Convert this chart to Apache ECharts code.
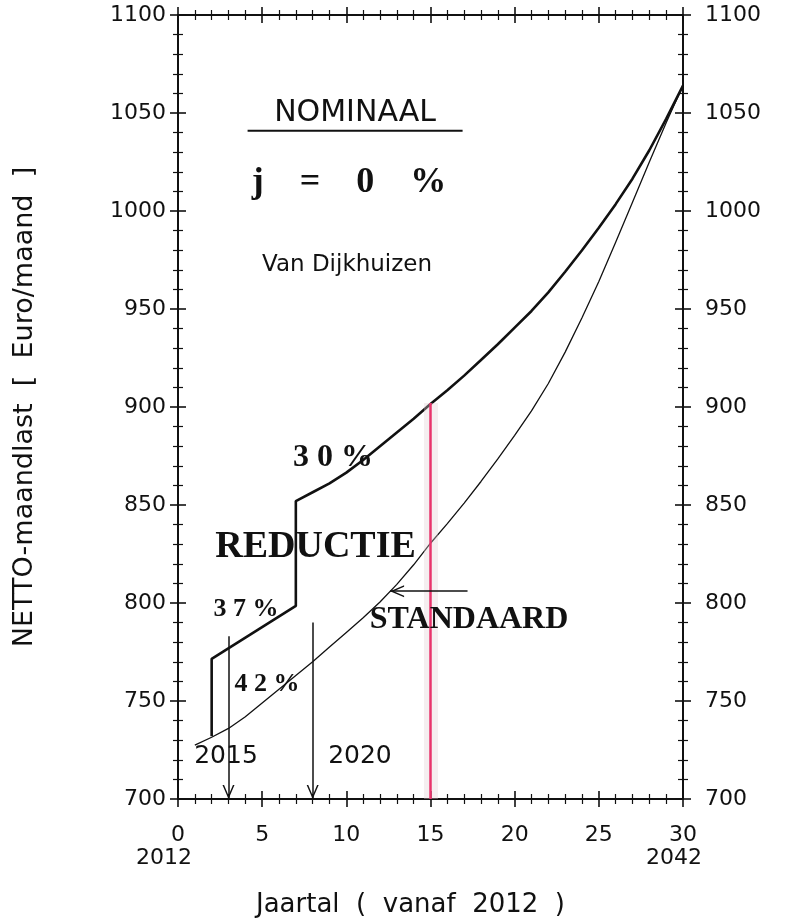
<!DOCTYPE html>
<html><head><meta charset="utf-8">
<script src="https://cdn.jsdelivr.net/npm/echarts@6/dist/echarts.min.js"></script>
<style>html,body{margin:0;padding:0;background:#fff}#c{width:787px;height:923px}</style>
</head><body><div id="c"></div>
<script>
// ---- axis ranges / ticks ----
const xMin = 0, xMax = 30, xStep = 5;
const yMin = 700, yMax = 1100, yStep = 50;
const yearTickValues = [0, 30];
const yearTickLabels = ['2012', '2042'];
const xTitle = 'Jaartal  (  vanaf  2012  )';
const yTitle = 'NETTO-maandlast  [  Euro/maand  ]';

// ---- STANDAARD (thin curve) ----
const standardYears  = [1,2,3,4,5,6,7,8,9,10,11,12,13,14,15,16,17,18,19,20,21,22,23,24,25,26,27,28,29,30];
const standardValues = [727.5,731.5,736,742,749,756,763,770,777.5,785,792.5,800.5,809.5,819.5,830.5,840.5,851,862,873.5,885.5,898,912,928,945.5,964,984,1004.5,1025,1045,1064];

// ---- REDUCTIE (thick curve with steps) ----
const reductionYears  = [2,2,7,7,8,9,10,11,12,13,14,15,16,17,18,19,20,21,22,23,24,25,26,27,28,29,30];
const reductionValues = [732,771.5,798.5,852,856.5,861,866.5,873,880,887,894,901.5,908.5,916,924,932,940.5,949,958.5,969,980,991.5,1003.5,1016.5,1031,1047,1064];

// ---- red marker line at year 15 ----
const redLineX = [15, 15];
const redLineY = [902, 700];

// ---- arrows (from -> to) ----
const arrowFromX = [3, 8, 17.2];
const arrowFromY = [783, 790, 806];
const arrowToX   = [3, 8, 12.6];
const arrowToY   = [700, 700, 806];

// ---- annotations ----
const labelTexts = ['NOMINAAL', 'j    =    0    %', 'Van Dijkhuizen', '3 0 %', 'REDUCTIE', '3 7 %', '4 2 %', 'STANDAARD', '2015', '2020'];
const labelX     = [10.52, 10.16, 10.04, 9.21, 8.17, 4.04, 5.29, 17.29, 2.85, 10.81];
const labelY     = [1049.6, 1014.4, 972.6, 874.3, 828.4, 796.8, 758.6, 791.7, 721.9, 721.9];

// ================= rendering =================
const SANS = 'DejaVu Sans', SERIF = 'Liberation Serif', INK = '#111';
const chart = echarts.init(document.getElementById('c'));

function tickCfg(inside) {
  return {
    axisLine: {show: true, onZero: false, lineStyle: {color: INK, width: 2}},
    axisTick: {show: true, inside: inside, length: 8, lineStyle: {color: INK, width: 1.6}},
    minorTick: {show: true, splitNumber: 5, length: 5, lineStyle: {color: INK, width: 1.2}},
    splitLine: {show: false}, minorSplitLine: {show: false}
  };
}
function xAx(pos, inside, extra) {
  return Object.assign({type: 'value', gridIndex: 0, position: pos, min: xMin, max: xMax, interval: xStep,
    axisLabel: {show: false}}, tickCfg(inside), extra || {});
}
function yAx(pos, inside, extra) {
  return Object.assign({type: 'value', gridIndex: 0, position: pos, min: yMin, max: yMax, interval: yStep,
    axisLabel: {show: false}}, tickCfg(inside), extra || {});
}

const xLabelCfg = {
  axisLabel: {
    show: true, margin: 25,
    formatter: function (v) {
      let s = '{n|' + v + '}';
      const i = yearTickValues.indexOf(v);
      if (i >= 0) s += '\n{' + (i === 0 ? 'a' : 'b') + '|' + yearTickLabels[i] + '}';
      return s;
    },
    rich: {
      n: {fontFamily: SANS, fontSize: 22, color: INK, lineHeight: 23},
      a: {fontFamily: SANS, fontSize: 22, color: INK, lineHeight: 23, padding: [0, 28, 0, 0]},
      b: {fontFamily: SANS, fontSize: 22, color: INK, lineHeight: 23, padding: [0, 18, 0, 0]}
    }
  },
  name: xTitle, nameLocation: 'middle', nameGap: 93,
  nameTextStyle: {fontFamily: SANS, fontSize: 26, color: INK, padding: [0, 40, 0, 0]}
};
const yLabelStyle = {fontFamily: SANS, fontSize: 22, color: INK, formatter: function (v) { return String(v); }};

const chevron = 'path://M5,-14 L5.01,-14 Z M5,0 L10,14 L8.7,14 L5,3.6 L1.3,14 L0,14 Z';

const labelStyles = [
  {formatter: '{t|NOMINAAL}\n{u|}', rich: {
      t: {fontFamily: SANS, fontSize: 30, color: INK, lineHeight: 34},
      u: {width: 215, height: 2, lineHeight: 2, backgroundColor: INK}}},
  {fontFamily: SERIF, fontWeight: 'bold', fontSize: 36},
  {fontFamily: SANS, fontSize: 23},
  {fontFamily: SERIF, fontWeight: 'bold', fontSize: 32},
  {fontFamily: SERIF, fontWeight: 'bold', fontSize: 38},
  {fontFamily: SERIF, fontWeight: 'bold', fontSize: 26},
  {fontFamily: SERIF, fontWeight: 'bold', fontSize: 26},
  {fontFamily: SERIF, fontWeight: 'bold', fontSize: 32},
  {fontFamily: SANS, fontSize: 25},
  {fontFamily: SANS, fontSize: 25}
];

chart.setOption({
  animation: false,
  backgroundColor: '#fff',
  grid: {left: 178, right: 104, top: 15, bottom: 123, containLabel: false},
  xAxis: [
    xAx('bottom', false, xLabelCfg),
    xAx('bottom', true),
    xAx('top', false),
    xAx('top', true)
  ],
  yAxis: [
    yAx('left', false, {axisLabel: Object.assign({show: true, margin: 12}, yLabelStyle),
      name: yTitle, nameLocation: 'middle', nameGap: 140,
      nameTextStyle: {fontFamily: SANS, fontSize: 27, color: INK}}),
    yAx('left', true),
    yAx('right', false, {axisLabel: Object.assign({show: true, margin: 22}, yLabelStyle)}),
    yAx('right', true)
  ],
  series: [
    {
      type: 'line', name: 'halo', data: [], silent: true, z: 1,
      markLine: {
        silent: true, symbol: ['none', 'none'], label: {show: false},
        lineStyle: {color: 'rgba(225,205,212,0.35)', width: 14, type: 'solid'},
        data: [[{coord: [redLineX[0], redLineY[0]]}, {coord: [redLineX[1], redLineY[1]]}]]
      }
    },
    {
      type: 'line', name: 'red', data: [], silent: true, z: 3,
      markLine: {
        silent: true, symbol: ['none', 'none'], label: {show: false},
        lineStyle: {color: '#e8346c', width: 2.5, type: 'solid'},
        data: [[{coord: [redLineX[0], redLineY[0]]}, {coord: [redLineX[1], redLineY[1]]}]]
      }
    },
    {
      type: 'line', name: 'Standaard', showSymbol: false, smooth: false, z: 2,
      lineStyle: {color: INK, width: 1.3},
      data: standardYears.map((x, i) => [x, standardValues[i]])
    },
    {
      type: 'line', name: 'Reductie', showSymbol: false, smooth: false, z: 2,
      lineStyle: {color: INK, width: 2.6},
      data: reductionYears.map((x, i) => [x, reductionValues[i]])
    },
    {
      type: 'line', name: 'arrows', data: [], silent: true,
      markLine: {
        silent: true, symbol: ['none', chevron], symbolSize: [12, 28], label: {show: false},
        lineStyle: {color: INK, width: 1.5, type: 'solid'},
        data: arrowFromX.map((x, i) => [{coord: [x, arrowFromY[i]]}, {coord: [arrowToX[i], arrowToY[i]]}])
      }
    },
    {
      type: 'scatter', name: 'labels', symbol: 'circle', symbolSize: 1, silent: true, z: 5,
      itemStyle: {color: 'rgba(0,0,0,0)', opacity: 1},
      data: labelTexts.map((t, i) => ({
        value: [labelX[i], labelY[i]],
        label: Object.assign({show: true, position: 'inside', color: INK, opacity: 1, textBorderWidth: 0,
          align: 'center', verticalAlign: 'middle', formatter: t}, labelStyles[i])
      }))
    }
  ]
});
</script></body></html>
